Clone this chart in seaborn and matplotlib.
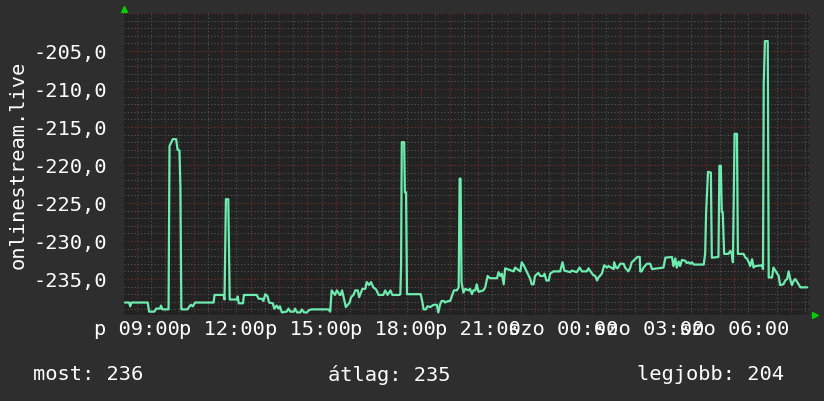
import numpy as np
import pandas as pd
import seaborn as sns
import matplotlib
matplotlib.use('Agg')
import matplotlib.pyplot as plt
from matplotlib.ticker import FixedLocator, MultipleLocator, FuncFormatter

# minutes relative to friday 09:00
minutes = [
    -25, -16, -14, -11, 23, 26, 37, 41, 49, 51, 54, 67, 69, 72, 76, 83, 86, 90, 92, 94,
    107, 110, 114, 118, 123, 162, 164, 183, 185, 188, 193, 196, 211, 213, 215, 224, 226, 253, 257, 264,
    267, 271, 276, 279, 287, 290, 295, 299, 302, 306, 316, 320, 324, 331, 334, 338, 345, 348, 353, 359,
    363, 369, 404, 408, 411, 418, 422, 428, 430, 433, 437, 441, 445, 449, 452, 457, 461, 466, 469, 476,
    482, 485, 490, 494, 499, 505, 510, 520, 524, 529, 535, 539, 554,
    556, 557.5, 559, 564, 565.5, 568, 570, 599, 602, 605, 610, 613, 619, 626, 633, 636, 640, 643, 648, 650,
    657, 661, 665, 669, 675, 679, 681, 683, 685, 689, 693, 700, 703, 707, 710, 714, 717, 721, 731, 735,
    740, 745, 760, 763, 767, 770, 774, 777, 795, 798, 809, 812, 817, 823, 830, 833, 837, 840, 847, 851,
    858, 860, 864, 869, 872, 879, 893, 898, 902, 914, 918, 928, 934, 939, 949, 953, 956, 963, 967, 971,
    974, 981, 986, 992, 995, 1006, 1007, 1011, 1014, 1020, 1027, 1030, 1037, 1041, 1044, 1048, 1051, 1056, 1061, 1062,
    1065, 1069, 1076, 1083, 1087, 1111, 1115, 1129, 1132, 1136, 1139, 1143, 1146, 1150, 1157, 1160, 1164, 1168, 1171, 1175,
    1196, 1199, 1201, 1205, 1211, 1213, 1227, 1229, 1232, 1234, 1236, 1239, 1248, 1252, 1255, 1257.5, 1261, 1266, 1268, 1280,
    1284, 1287, 1291, 1294, 1298, 1301, 1305, 1319, 1321, 1322.5, 1325, 1331, 1333, 1340, 1343, 1349, 1354, 1357, 1364, 1368,
    1372, 1375, 1379, 1382, 1386, 1389, 1393, 1396, 1400, 1414,
]
values = [
    -238.1, -238.1, -238.6, -238.1, -238.1, -239.3, -239.3, -238.9, -238.9, -238.5, -239.0, -239.0, -217.5, -217.1, -216.6, -216.6, -218.0, -218.1, -222.9, -239.0,
    -239.0, -238.7, -238.4, -238.6, -238.1, -238.1, -237.1, -237.1, -237.7, -224.5, -224.5, -237.7, -237.7, -237.3, -238.2, -238.2, -237.1, -237.1, -237.6, -237.6,
    -237.9, -237.0, -237.3, -238.1, -238.2, -238.9, -238.5, -238.9, -238.6, -239.4, -239.3, -238.9, -239.3, -239.3, -238.9, -239.4, -239.4, -239.0, -239.4, -239.4,
    -239.1, -239.0, -239.0, -239.3, -236.5, -237.1, -236.5, -237.1, -237.1, -236.5, -237.6, -238.7, -238.4, -238.1, -237.4, -237.1, -236.5, -236.5, -237.4, -236.3,
    -236.3, -235.4, -235.8, -235.4, -236.1, -236.4, -237.1, -237.1, -236.5, -237.1, -236.5, -237.1, -237.1,
    -237.0, -233.2, -217.0, -217.0, -223.6, -223.6, -237.0, -237.0, -237.9, -239.0, -239.0, -238.6, -238.7, -238.4, -238.4, -239.4, -238.3, -237.9, -237.9, -238.1,
    -237.9, -237.9, -237.2, -236.5, -236.5, -236.1, -221.8, -221.8, -235.4, -236.8, -236.3, -236.5, -236.3, -237.0, -236.5, -236.5, -235.7, -236.7, -236.5, -236.1,
    -234.6, -234.9, -234.9, -234.1, -234.6, -234.3, -235.7, -233.6, -234.0, -233.5, -234.0, -232.8, -233.3, -234.1, -235.0, -235.7, -235.7, -234.6, -234.2, -234.6,
    -234.6, -234.3, -235.2, -235.2, -234.3, -234.0, -234.0, -232.8, -233.9, -234.1, -233.9, -234.1, -233.5, -234.0, -234.0, -233.6, -233.9, -234.5, -234.6, -235.2,
    -234.8, -234.3, -233.2, -233.5, -233.3, -233.7, -232.8, -233.5, -233.6, -233.0, -233.0, -233.5, -234.0, -233.5, -232.8, -232.6, -232.4, -232.1, -232.1, -234.0,
    -234.0, -233.5, -233.0, -233.0, -233.7, -233.5, -232.2, -232.1, -233.3, -232.3, -233.5, -232.7, -233.3, -232.5, -232.6, -232.9, -232.8, -233.0, -232.8, -233.1,
    -233.1, -231.6, -226.2, -220.9, -221.0, -232.2, -232.1, -220.1, -220.1, -226.2, -226.2, -231.7, -231.7, -231.3, -231.7, -232.8, -215.9, -215.9, -231.7, -231.7,
    -232.2, -232.3, -232.8, -233.3, -232.4, -233.5, -233.3, -233.2, -233.7, -209.3, -203.7, -203.7, -234.8, -234.8, -233.5, -234.1, -234.6, -235.8, -235.7, -235.2,
    -235.0, -234.0, -235.2, -235.8, -235.2, -235.0, -235.4, -235.7, -236.1, -236.1,
]

tick_minutes = [0, 180, 360, 540, 720, 900, 1080, 1260]
tick_labels = ['p 09:00', 'p 12:00', 'p 15:00', 'p 18:00', 'p 21:00',
               'szo 00:00', 'szo 03:00', 'szo 06:00']
y_ticks = [-235, -230, -225, -220, -215, -210, -205]

y_title = 'onlinestream.live'
footer = ['most: 236', 'átlag: 235', 'legjobb: 204']

BG = '#2e2e2e'
PLOT_BG = '#222222'
LINE = '#6febb0'
FS = 14.7

sns.set_theme(style='dark')
plt.rcParams['font.family'] = ['DejaVu Sans Mono', 'DejaVu Sans']

fig = plt.figure(figsize=(8.24, 4.02), dpi=100, facecolor=BG)
ax = fig.add_axes([124 / 824, 86 / 402, 685 / 824, 302 / 402])
ax.set_facecolor(PLOT_BG)

df = pd.DataFrame({'minute': minutes, 'value': values})
sns.lineplot(data=df, x='minute', y='value', ax=ax, color=LINE, lw=1.6,
             estimator=None, sort=False)

ax.set_xlim(-27, 1418)
ax.set_ylim(-239.74, -200)

# hourly red grid, half-hour grey grid, labels every 3 hours
label_map = dict(zip(tick_minutes, tick_labels))
ax.xaxis.set_major_locator(FixedLocator(np.arange(0, 1441, 60)))
ax.xaxis.set_minor_locator(MultipleLocator(30))
ax.xaxis.set_major_formatter(FuncFormatter(lambda v, p: label_map.get(int(round(v)), '')))

ax.yaxis.set_major_locator(FixedLocator(np.arange(-235, -199, 5)))
ax.yaxis.set_minor_locator(MultipleLocator(1))
ax.yaxis.set_major_formatter(
    FuncFormatter(lambda v, p: f'{v:.1f}'.replace('.', ',') if v in y_ticks else ''))

ax.set_axisbelow(True)
ax.grid(which='major', color='#7e2f2f', linestyle=(0, (1, 2)), lw=0.8)
ax.grid(which='minor', color='#555555', linestyle=(0, (1, 2)), lw=0.8)
ax.tick_params(which='both', length=0, colors='white', labelsize=FS)
ax.tick_params(axis='y', pad=12)
ax.tick_params(axis='x', pad=3)
for s in ax.spines.values():
    s.set_visible(False)
ax.set_xlabel('')
ax.set_ylabel('')

# rrdtool style axis arrows
ax.plot([0], [1.013], marker='^', color='#00cc00', ms=5, transform=ax.transAxes, clip_on=False)
ax.plot([1.009], [0], marker='>', color='#00cc00', ms=5, transform=ax.transAxes, clip_on=False)

fig.text(18 / 824, 1 - 165 / 402, y_title, rotation=90, ha='center', va='center',
         color='white', fontsize=FS)
for txt, x in zip(footer, [33, 328, 637]):
    fig.text(x / 824, 1 - 375 / 402, txt, ha='left', va='center', color='white', fontsize=FS)

fig.savefig('out.png', dpi=100, facecolor=BG)
